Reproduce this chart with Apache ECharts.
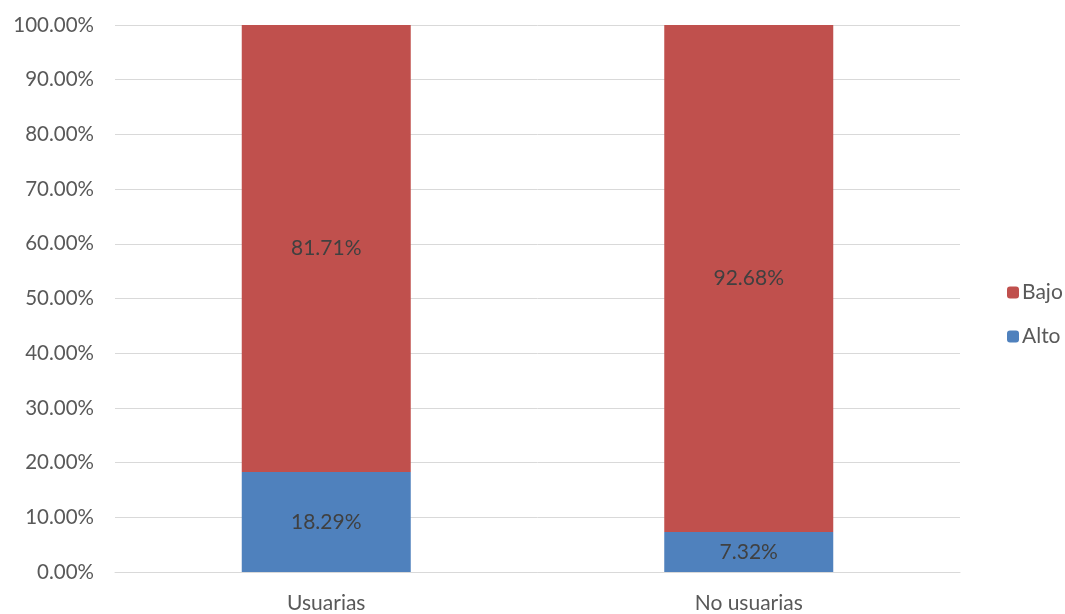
<!DOCTYPE html>
<html>
<head>
<meta charset="utf-8">
<script src="https://cdn.jsdelivr.net/npm/echarts@6/dist/echarts.min.js"></script>
<style>
  html, body { margin: 0; padding: 0; background: #fff; }
  #chart { width: 1065px; height: 614px; }
</style>
</head>
<body>
<div id="chart"></div>
<script>
// Categories and shares (percent) per group
var categories = ['Usuarias', 'No usuarias'];
var alto = [18.29, 7.32];
var bajo = [81.71, 92.68];

var FONT = 'Lato, "Open Sans", sans-serif';

var chart = echarts.init(document.getElementById('chart'));

function pctLabel(p) { return p.value.toFixed(2) + '%'; }

chart.setOption({
  animation: false,
  textStyle: { fontFamily: FONT },
  grid: { left: 115, right: 105, top: 25, bottom: 42 },
  legend: {
    orient: 'vertical',
    left: 1002,
    top: 277,
    itemWidth: 12,
    itemHeight: 12,
    itemGap: 23,
    data: ['Bajo', 'Alto'],
    textStyle: { fontFamily: FONT, fontSize: 21, color: '#595959', padding: [0, 0, 0, -2] }
  },
  xAxis: {
    type: 'category',
    data: categories,
    axisTick: { show: false },
    axisLine: { lineStyle: { color: '#d9d9d9', width: 1 } },
    axisLabel: { fontFamily: FONT, fontSize: 21, color: '#595959', margin: 21 }
  },
  yAxis: {
    type: 'value',
    min: 0,
    max: 100,
    interval: 10,
    axisLine: { show: false },
    axisTick: { show: false },
    splitLine: { lineStyle: { color: '#d9d9d9', width: 1 } },
    axisLabel: {
      fontFamily: FONT, fontSize: 20.5, color: '#595959', margin: 21,
      formatter: function (v) { return v.toFixed(2) + '%'; }
    }
  },
  series: [
    {
      name: 'Alto',
      type: 'bar',
      stack: 'total',
      barWidth: '40%',
      data: alto,
      itemStyle: { color: '#4f81bd' },
      label: { show: true, position: 'inside', formatter: pctLabel, fontFamily: FONT, fontSize: 21, color: '#404040' }
    },
    {
      name: 'Bajo',
      type: 'bar',
      stack: 'total',
      barWidth: '40%',
      data: bajo,
      itemStyle: { color: '#c0504d' },
      label: { show: true, position: 'inside', formatter: pctLabel, fontFamily: FONT, fontSize: 21, color: '#404040' }
    }
  ]
});
</script>
</body>
</html>
